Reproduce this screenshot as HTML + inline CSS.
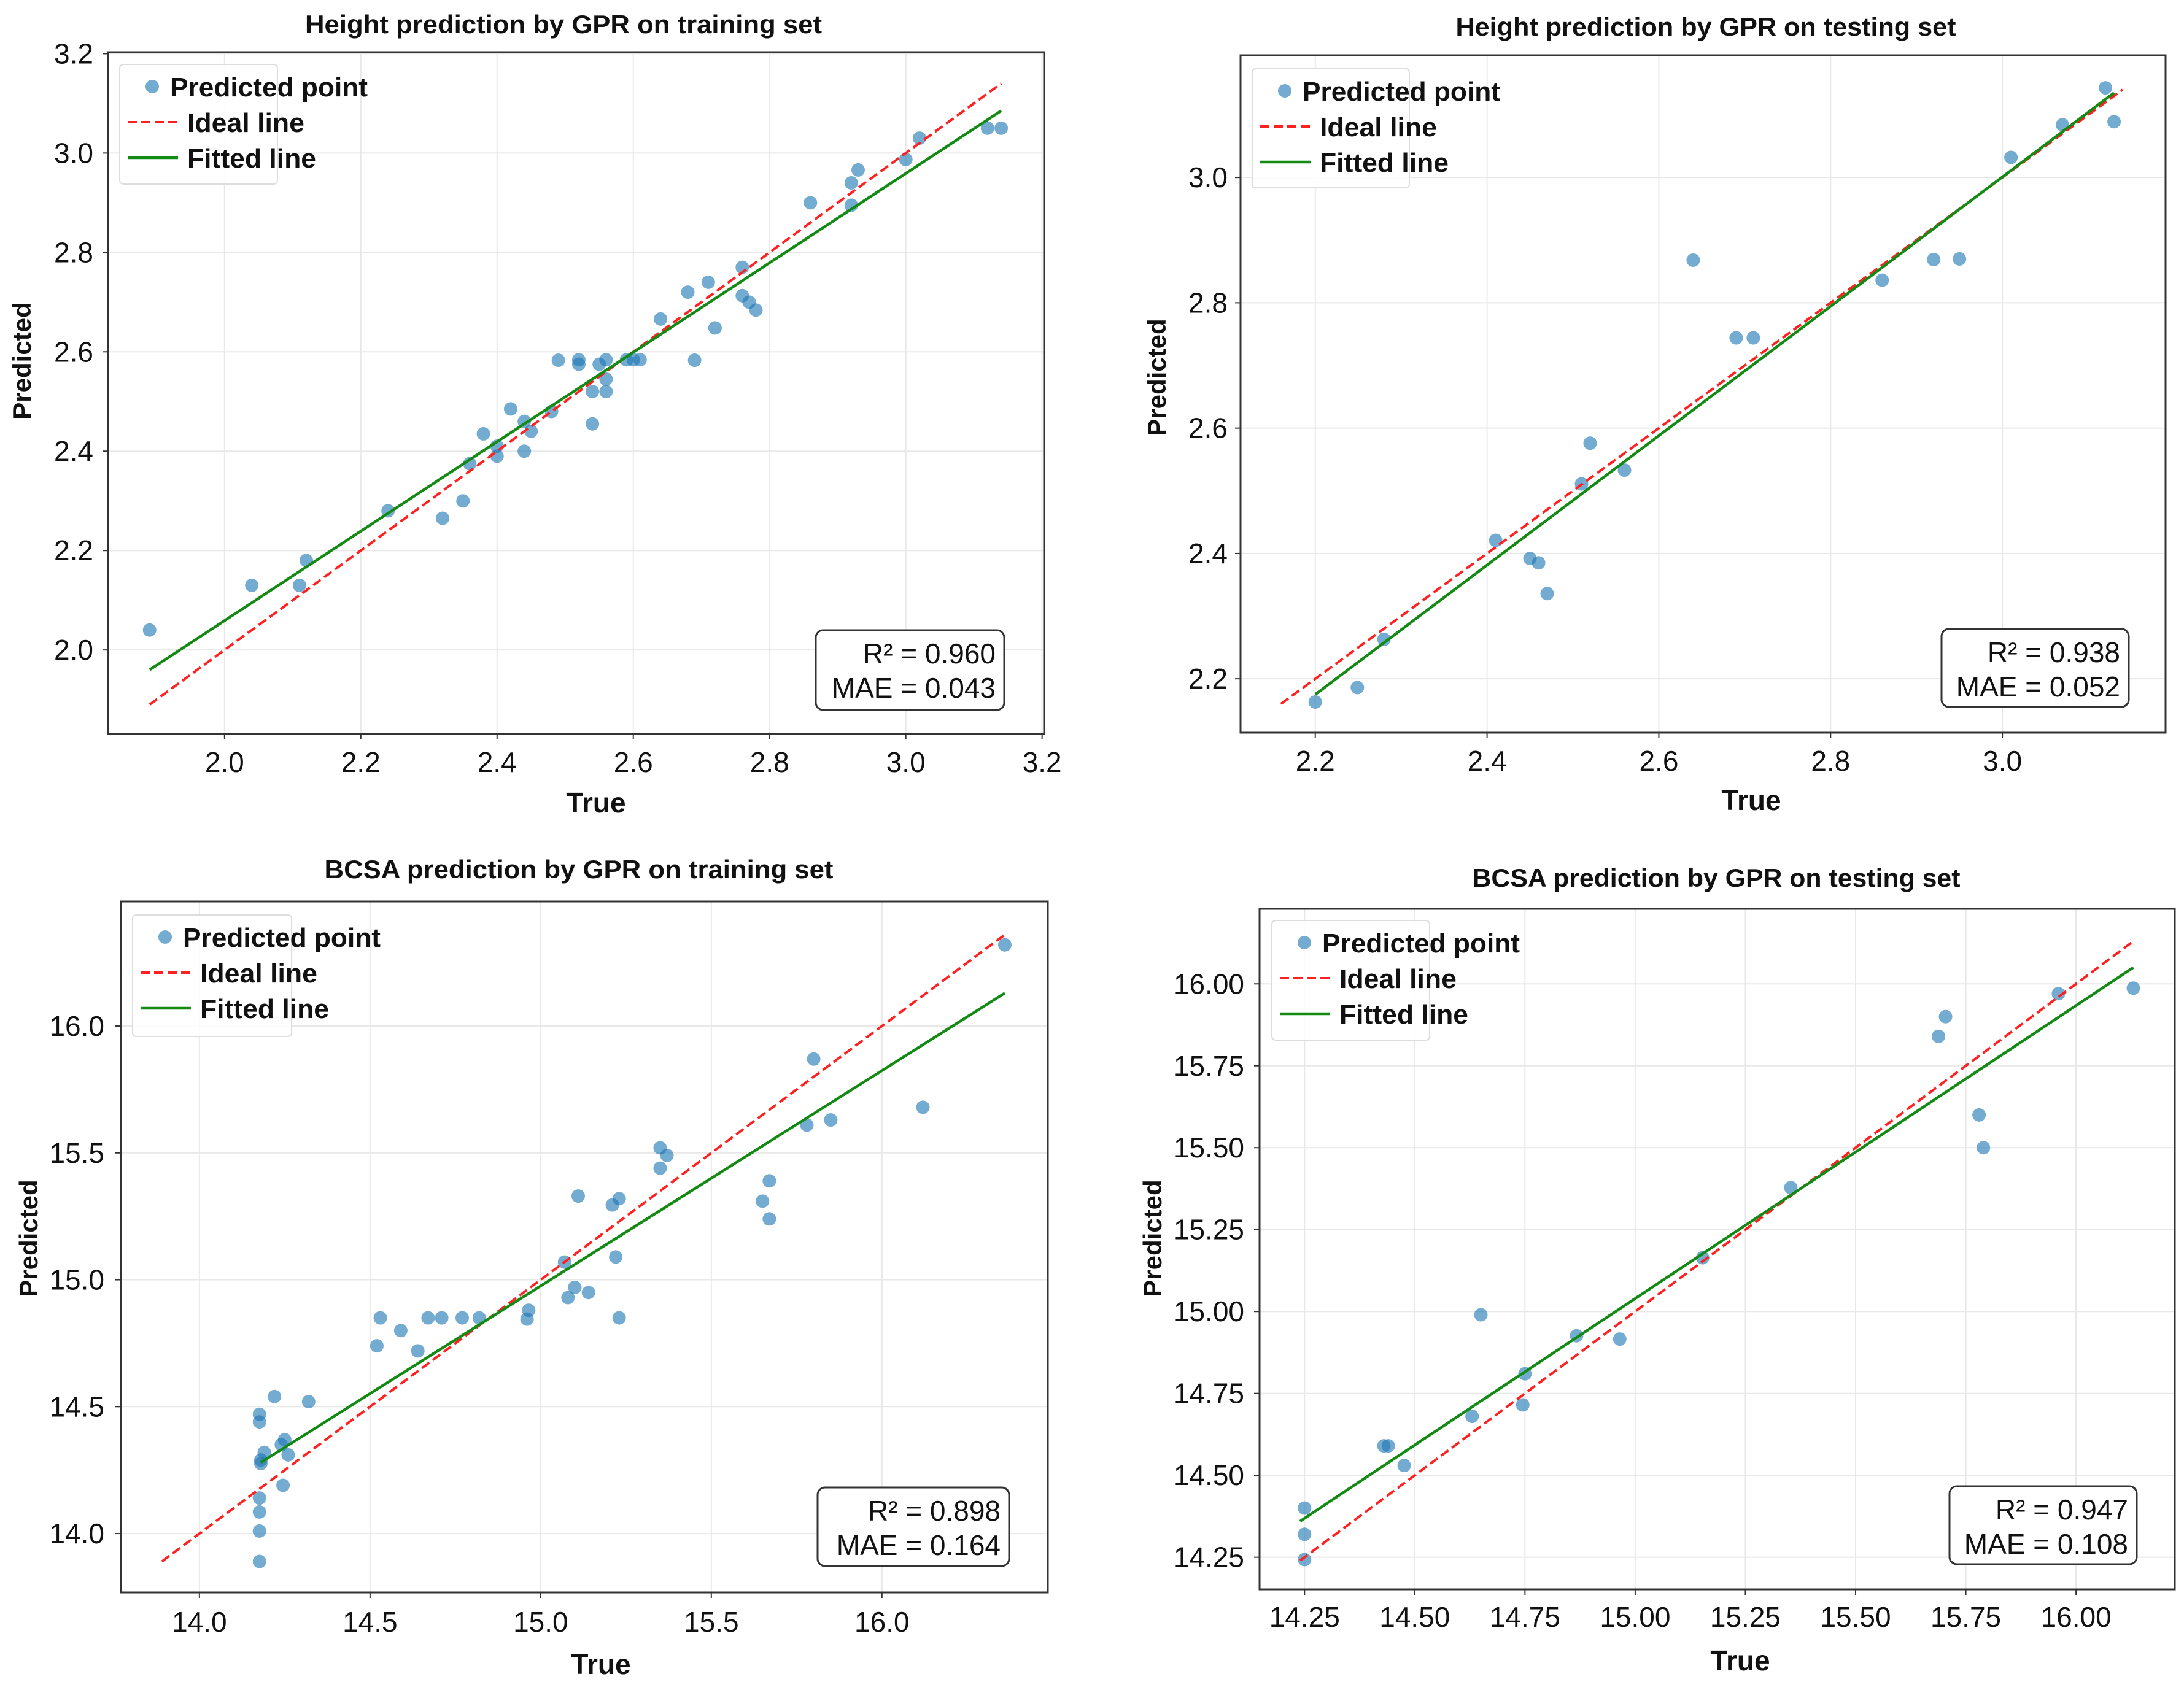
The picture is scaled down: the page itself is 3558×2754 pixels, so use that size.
<!DOCTYPE html>
<html><head><meta charset="utf-8">
<style>
html,body{margin:0;padding:0;background:#fff;}
svg{display:block;}
text{font-family:"Liberation Sans",sans-serif;fill:#111;}
</style></head>
<body>
<svg id="fig" width="3558" height="2754" viewBox="0 0 3558 2754" xmlns="http://www.w3.org/2000/svg">
<rect width="3558" height="2754" fill="#fff"/>
</svg>
<script>
// ---- Panel 1: Height training ----
const p1True = [1.89,2.04,2.11,2.12,2.24,2.32,2.35,2.36,2.38,2.40,2.40,2.42,2.44,2.44,2.45,2.48,2.49,2.52,2.52,2.54,2.54,2.55,2.56,2.56,2.56,2.59,2.60,2.61,2.64,2.68,2.69,2.71,2.72,2.76,2.76,2.77,2.78,2.86,2.92,2.92,2.93,3.00,3.02,3.12,3.14];
const p1Pred = [2.04,2.13,2.13,2.18,2.28,2.265,2.30,2.375,2.435,2.39,2.41,2.485,2.46,2.40,2.44,2.48,2.583,2.584,2.575,2.52,2.455,2.575,2.584,2.545,2.52,2.584,2.584,2.584,2.666,2.72,2.583,2.74,2.648,2.77,2.713,2.70,2.684,2.90,2.94,2.895,2.966,2.987,3.03,3.05,3.05];
const p1XTicks = [2.0,2.2,2.4,2.6,2.8,3.0,3.2];
const p1YTicks = [2.0,2.2,2.4,2.6,2.8,3.0,3.2];
const p1Ideal = [1.89,3.14];
const p1FitX = [1.89,3.14];
const p1FitY = [1.96,3.085];
const p1Stats = ["R² = 0.960","MAE = 0.043"];
// ---- Panel 2: Height testing ----
const p2True = [2.20,2.249,2.28,2.41,2.45,2.46,2.47,2.51,2.52,2.56,2.64,2.69,2.71,2.86,2.92,2.95,3.01,3.07,3.12,3.13];
const p2Pred = [2.163,2.186,2.263,2.421,2.392,2.385,2.336,2.511,2.576,2.533,2.868,2.744,2.744,2.836,2.869,2.870,3.032,3.084,3.143,3.089];
const p2XTicks = [2.2,2.4,2.6,2.8,3.0];
const p2YTicks = [2.2,2.4,2.6,2.8,3.0];
const p2Ideal = [2.16,3.14];
const p2FitX = [2.2,3.13];
const p2FitY = [2.175,3.135];
const p2Stats = ["R² = 0.938","MAE = 0.052"];
// ---- Panel 3: BCSA training ----
const p3True = [14.176,14.176,14.18,14.18,14.19,14.22,14.24,14.25,14.26,14.245,14.176,14.176,14.176,14.176,14.32,14.52,14.53,14.59,14.64,14.67,14.71,14.77,14.82,14.96,14.965,15.07,15.08,15.10,15.11,15.14,15.21,15.23,15.22,15.23,15.35,15.37,15.35,15.65,15.67,15.67,15.78,15.80,15.85,16.12,16.36];
const p3Pred = [14.47,14.44,14.276,14.29,14.32,14.54,14.35,14.37,14.31,14.19,14.14,14.085,14.01,13.89,14.52,14.74,14.85,14.80,14.72,14.85,14.85,14.85,14.85,14.845,14.88,15.07,14.93,14.97,15.33,14.95,15.295,15.32,15.09,14.85,15.52,15.49,15.44,15.31,15.39,15.24,15.61,15.87,15.63,15.68,16.32];
const p3XTicks = [14.0,14.5,15.0,15.5,16.0];
const p3YTicks = [14.0,14.5,15.0,15.5,16.0];
const p3Ideal = [13.89,16.36];
const p3FitX = [14.18,16.36];
const p3FitY = [14.28,16.13];
const p3Stats = ["R² = 0.898","MAE = 0.164"];
// ---- Panel 4: BCSA testing ----
const p4True = [14.25,14.25,14.25,14.43,14.44,14.476,14.63,14.65,14.745,14.75,14.867,14.965,15.153,15.353,15.688,15.704,15.78,15.79,15.96,16.13];
const p4Pred = [14.243,14.32,14.40,14.59,14.59,14.53,14.68,14.99,14.715,14.81,14.926,14.916,15.164,15.378,15.84,15.90,15.60,15.50,15.97,15.987];
const p4XTicks = [14.25,14.50,14.75,15.00,15.25,15.50,15.75,16.00];
const p4YTicks = [14.25,14.50,14.75,15.00,15.25,15.50,15.75,16.00];
const p4Ideal = [14.24,16.13];
const p4FitX = [14.24,16.13];
const p4FitY = [14.36,16.05];
const p4Stats = ["R² = 0.947","MAE = 0.108"];

const NS = "http://www.w3.org/2000/svg";
const svg = document.getElementById('fig');
function mk(tag, attrs, parent){
  const e = document.createElementNS(NS, tag);
  for (const k in attrs) e.setAttribute(k, attrs[k]);
  (parent||svg).appendChild(e);
  return e;
}

const panels = [
 {id:'p1', box:[176,85,1701,1196], xd:[1.829,3.203], yd:[1.831,3.203], tr:p1True, pr:p1Pred, xt:p1XTicks, yt:p1YTicks, dec:1,
  ideal:p1Ideal, fx:p1FitX, fy:p1FitY, stats:p1Stats, title:"Height prediction by GPR on training set", tx:918, ty:54, tw:842,
  xlab:[971,1324], ylab:[50,588], xtY:1258, ytX:152, leg:[195,105,452,300], sb:[1329,1027,1636,1157]},
 {id:'p2', box:[2021,90,3528,1194], xd:[2.113,3.190], yd:[2.114,3.195], tr:p2True, pr:p2Pred, xt:p2XTicks, yt:p2YTicks, dec:1,
  ideal:p2Ideal, fx:p2FitX, fy:p2FitY, stats:p2Stats, title:"Height prediction by GPR on testing set", tx:2779, ty:58, tw:815,
  xlab:[2853,1320], ylab:[1899,615], xtY:1256, ytX:2000, leg:[2040,112,2296,306], sb:[3163,1025,3468,1152]},
 {id:'p3', box:[197,1469,1707,2595], xd:[13.770,16.486], yd:[13.768,16.491], tr:p3True, pr:p3Pred, xt:p3XTicks, yt:p3YTicks, dec:1,
  ideal:p3Ideal, fx:p3FitX, fy:p3FitY, stats:p3Stats, title:"BCSA prediction by GPR on training set", tx:943, ty:1431, tw:829,
  xlab:[979,2728], ylab:[61,2018], xtY:2659, ytX:170, leg:[216,1491,475,1689], sb:[1332,2424,1644,2552]},
 {id:'p4', box:[2052,1481,3543,2590], xd:[14.148,16.224], yd:[14.152,16.229], tr:p4True, pr:p4Pred, xt:p4XTicks, yt:p4YTicks, dec:2,
  ideal:p4Ideal, fx:p4FitX, fy:p4FitY, stats:p4Stats, title:"BCSA prediction by GPR on testing set", tx:2796, ty:1445, tw:795,
  xlab:[2835,2722], ylab:[1892,2018], xtY:2651, ytX:2027, leg:[2072,1500,2329,1695], sb:[3176,2422,3481,2549]}
];

panels.forEach(p => {
  const g = mk('g', {});
  
  
  const [L,T,R,B] = p.box;
  const sx = v => L + (v - p.xd[0]) / (p.xd[1] - p.xd[0]) * (R - L);
  const sy = v => B - (v - p.yd[0]) / (p.yd[1] - p.yd[0]) * (B - T);

  // grid
  p.xt.forEach(t => {
    const l = mk('line', {x1:sx(t), x2:sx(t), y1:T, y2:B, stroke:'#e8e8e8', 'stroke-width':2}, g);
    
    
    const tk = mk('line', {x1:sx(t), x2:sx(t), y1:B, y2:B+9, stroke:'#333', 'stroke-width':2}, g);
    
    
    const tx = mk('text', {x:sx(t), y:p.xtY, 'font-size':46, 'text-anchor':'middle', fill:'#222'}, g);
    tx.textContent = t.toFixed(p.dec);
    
    
  });
  p.yt.forEach(t => {
    const l = mk('line', {x1:L, x2:R, y1:sy(t), y2:sy(t), stroke:'#e8e8e8', 'stroke-width':2}, g);
    
    
    const tk = mk('line', {x1:L-9, x2:L, y1:sy(t), y2:sy(t), stroke:'#333', 'stroke-width':2}, g);
    
    
    const ty = mk('text', {x:p.ytX, y:sy(t)+16, 'font-size':46, 'text-anchor':'end', fill:'#222'}, g);
    ty.textContent = t.toFixed(p.dec);
    
    
  });

  // points
  p.tr.forEach((v, i) => {
    const c = mk('circle', {cx:sx(v), cy:sy(p.pr[i]), r:11, fill:'#1f77b4', 'fill-opacity':0.62}, g);
    
    
  });
  // ideal
  const il = mk('line', {x1:sx(p.ideal[0]), y1:sy(p.ideal[0]), x2:sx(p.ideal[1]), y2:sy(p.ideal[1]), stroke:'#ff2020', 'stroke-width':4, 'stroke-dasharray':'15 7'}, g);
  
  
  // fitted
  const fl = mk('line', {x1:sx(p.fx[0]), y1:sy(p.fy[0]), x2:sx(p.fx[1]), y2:sy(p.fy[1]), stroke:'#138a13', 'stroke-width':4.5}, g);
  
  

  // frame
  const fr = mk('rect', {x:L, y:T, width:R-L, height:B-T, fill:'none', stroke:'#333', 'stroke-width':3}, g);
  
  

  // title
  const tt = mk('text', {x:p.tx, y:p.ty, 'font-size':42, 'font-weight':'bold', 'text-anchor':'middle', textLength:p.tw, lengthAdjust:'spacingAndGlyphs'}, g);
  tt.textContent = p.title;
  
  
  // axis labels
  const xl = mk('text', {x:p.xlab[0], y:p.xlab[1], 'font-size':46, 'font-weight':'bold', 'text-anchor':'middle'}, g);
  xl.textContent = 'True';
  
  
  const yl = mk('text', {x:p.ylab[0], y:p.ylab[1], 'font-size':42, 'font-weight':'bold', 'text-anchor':'middle', transform:`rotate(-90 ${p.ylab[0]} ${p.ylab[1]})`}, g);
  yl.textContent = 'Predicted';
  
  

  // legend
  const [lx0,ly0,lx1,ly1] = p.leg;
  const lg = mk('g', {}, g);
  
  
  mk('rect', {x:lx0, y:ly0, width:lx1-lx0, height:ly1-ly0, rx:6, fill:'#fff', 'fill-opacity':0.85, stroke:'#ddd', 'stroke-width':2}, lg);
  const e1 = mk('circle', {cx:lx0+53, cy:ly0+36, r:11, fill:'#1f77b4', 'fill-opacity':0.62}, lg);
  
  
  const t1 = mk('text', {x:lx0+82, y:ly0+52, 'font-size':44, 'font-weight':'bold', textLength:322, lengthAdjust:'spacingAndGlyphs'}, lg);
  t1.textContent = 'Predicted point';
  
  
  const e2 = mk('line', {x1:lx0+13, x2:lx0+95, y1:ly0+94, y2:ly0+94, stroke:'#ff2020', 'stroke-width':4, 'stroke-dasharray':'15 7'}, lg);
  
  
  const t2 = mk('text', {x:lx0+110, y:ly0+110, 'font-size':44, 'font-weight':'bold', textLength:191, lengthAdjust:'spacingAndGlyphs'}, lg);
  t2.textContent = 'Ideal line';
  
  
  const e3 = mk('line', {x1:lx0+13, x2:lx0+95, y1:ly0+152, y2:ly0+152, stroke:'#138a13', 'stroke-width':4.5}, lg);
  
  
  const t3 = mk('text', {x:lx0+110, y:ly0+168, 'font-size':44, 'font-weight':'bold', textLength:210, lengthAdjust:'spacingAndGlyphs'}, lg);
  t3.textContent = 'Fitted line';
  
  

  // stats box
  const [bx0,by0,bx1,by1] = p.sb;
  const sbg = mk('g', {}, g);
  
  
  mk('rect', {x:bx0, y:by0, width:bx1-bx0, height:by1-by0, rx:12, fill:'#fff', stroke:'#333', 'stroke-width':3}, sbg);
  const s1 = mk('text', {x:bx1-14, y:by0+54, 'font-size':46, 'text-anchor':'end'}, sbg);
  s1.textContent = p.stats[0];
  
  
  const s2 = mk('text', {x:bx1-14, y:by0+110, 'font-size':46, 'text-anchor':'end'}, sbg);
  s2.textContent = p.stats[1];
  
  
});
</script>
</body></html>
